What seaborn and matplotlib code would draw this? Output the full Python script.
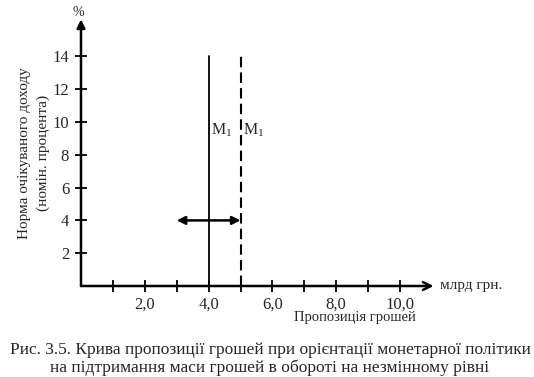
import matplotlib
matplotlib.use("Agg")
import matplotlib.pyplot as plt
import seaborn as sns
import pandas as pd

sns.set_style("white")
plt.rcParams['font.family'] = ['Liberation Serif', 'DejaVu Serif']
plt.rcParams['mathtext.fontset'] = 'custom'
plt.rcParams['mathtext.rm'] = 'Liberation Serif'
plt.rcParams['mathtext.it'] = 'Liberation Serif'

# data
x_major = [2.0, 4.0, 6.0, 8.0, 10.0]
x_major_labels = ["2,0", "4,0", "6,0", "8,0", "10,0"]
x_minor = [1, 3, 5, 7, 9]
y_ticks = [2, 4, 6, 8, 10, 12, 14]
m1_x = [4.0, 4.0]
m1_y = [0, 14]
m1b_x = [5.0, 5.0]
m1b_y = [0, 14]
arrow_y = 4
arrow_from = 3.0
arrow_to = 5.0

fig = plt.figure(figsize=(5.34, 3.77), dpi=100)
ax = fig.add_axes([81/534, 1-286/377, 360.5/534, 270.6/377])
ax.set_xlim(0, 11.3)
ax.set_ylim(0, 16.5)

df1 = pd.DataFrame({"x": m1_x, "y": m1_y})
df2 = pd.DataFrame({"x": m1b_x, "y": m1b_y})
sns.lineplot(data=df1, x="x", y="y", ax=ax, estimator=None, sort=False,
             color="black", linewidth=1.3)
sns.lineplot(data=df2, x="x", y="y", ax=ax, estimator=None, sort=False,
             color="black", linewidth=1.5, linestyle=(0, (5, 2.5)))

# double arrow
ax.annotate("", xy=(arrow_from, arrow_y), xytext=(arrow_to, arrow_y),
            arrowprops=dict(arrowstyle="<|-|>", color="black", lw=1.8,
                            mutation_scale=12, shrinkA=0, shrinkB=0))

ax.text(4.0 + 0.08, 9.5, r"M$_1$", fontsize=11.5, va="center", ha="left")
ax.text(5.0 + 0.08, 9.5, r"M$_1$", fontsize=11.5, va="center", ha="left")

# axes arrows
for s in ax.spines.values():
    s.set_visible(False)
ax.annotate("", xy=(11.05, 0), xytext=(0, 0), xycoords="data",
            arrowprops=dict(arrowstyle="->", color="black", lw=1.8,
                            mutation_scale=14, shrinkA=0, shrinkB=0),
            annotation_clip=False)
ax.annotate("", xy=(0, 16.25), xytext=(0, 0), xycoords="data",
            arrowprops=dict(arrowstyle="-|>", color="black", lw=1.8,
                            mutation_scale=12, shrinkA=0, shrinkB=0),
            annotation_clip=False)

ax.set_xticks(x_major)
ax.set_xticklabels(x_major_labels)
ax.set_xticks(x_minor, minor=True)
ax.set_yticks(y_ticks)
ax.set_yticklabels([str(v) for v in y_ticks])
ax.tick_params(axis="both", which="both", direction="inout", length=9,
               width=1.3, color="black", labelsize=12, pad=4,
               bottom=True, left=True)
ax.tick_params(axis="x", which="major", pad=3)
ax.set_xlabel("")
ax.set_ylabel("")
ax.grid(False)

fig.text(440/534, 1-285/377, "млрд грн.", fontsize=11, va="center", ha="left")
fig.text(81/534 - 0.005, 1-12/377, "%", fontsize=10, ha="center", va="center")

fig.text(25/534, 1-153/377, "Норма очікуваного доходу", rotation=90,
         fontsize=11, ha="center", va="center")
fig.text(43/534, 1-153/377, "(номін. процента)", rotation=90,
         fontsize=11, ha="center", va="center")

fig.text(355/534, 1-318/377, "Пропозиція грошей", fontsize=10.5,
         ha="center", va="center")
fig.text(270/534, 1-350/377,
         "Рис. 3.5. Крива пропозиції грошей при орієнтації монетарної політики",
         fontsize=12.5, ha="center", va="center")
fig.text(270/534, 1-368/377,
         "на підтримання маси грошей в обороті на незмінному рівні",
         fontsize=12.5, ha="center", va="center")

fig.savefig("out.png", dpi=100)
